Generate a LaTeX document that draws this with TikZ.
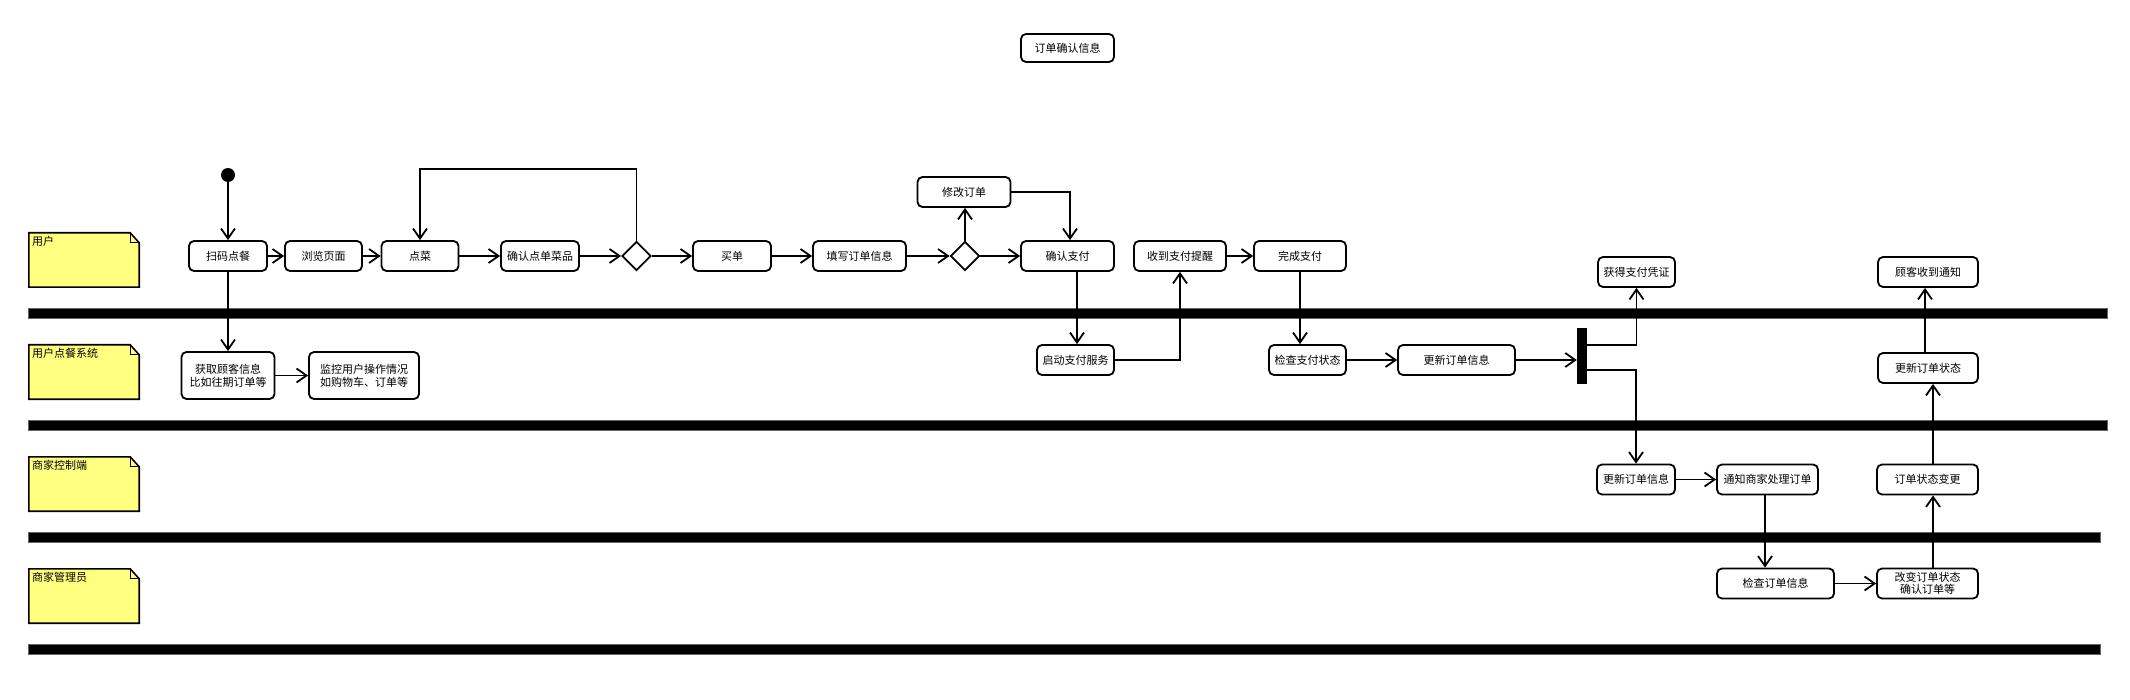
\documentclass[tikz,border=0pt]{standalone}
\usepackage{fontspec}
\newfontfamily\cjk{Noto Sans CJK SC}
\usetikzlibrary{arrows.meta,shapes.geometric}
\definecolor{noteyellow}{RGB}{255,255,128}
\begin{document}
\begin{tikzpicture}[x=1pt,y=-1pt,
  txt/.style={font=\cjk\fontsize{11}{13}\selectfont},
  box/.style={txt, draw, line width=1.8pt, rounded corners=5pt, fill=white, inner sep=0pt, minimum height=30pt, align=center},
  dia/.style={diamond, draw, line width=1.8pt, fill=white, minimum width=29pt, minimum height=29pt, inner sep=0pt, aspect=1},
  arr/.style={line width=1.8pt, -{Straight Barb[length=10pt,width=14pt]}},
  notebox/.style={minimum width=110pt, minimum height=54pt, inner sep=0pt},
  notedraw/.style={draw, line width=1.6pt, fill=noteyellow},
  band/.style={fill=black, draw=black!60, line width=0.8pt}
]
\useasboundingbox (0,0) rectangle (2130,700);

% swimlane separators
\path[band] (28,308) rectangle (2107,318);
\path[band] (28,420) rectangle (2107,430);
\path[band] (28,532) rectangle (2100,542);
\path[band] (28,644) rectangle (2100,654);

% lane notes
\foreach \n/\yy/\lab in {n1/260/用户, n2/372/用户点餐系统, n3/484/商家控制端, n4/596/商家管理员}{
  \node[notebox] (\n) at (84,\yy) {};
  \draw[notedraw] (\n.south west) -- (\n.north west) -- ([xshift=-9pt]\n.north east) -- ([yshift=-10pt]\n.north east) -- (\n.south east) -- cycle;
  \draw[line width=1.2pt] ([xshift=-9pt]\n.north east) -- ([xshift=-9pt,yshift=-10pt]\n.north east) -- ([yshift=-10pt]\n.north east);
  \node[txt, anchor=north west, inner sep=0pt] (\n t) at ([xshift=3pt,yshift=-3pt]\n.north west) {\lab};
}

% title
\node[box, minimum width=93pt, minimum height=28pt] (title) at (1067.5,48) {订单确认信息};

% lane 1
\node[circle, fill=black, minimum size=14pt, inner sep=0pt] (start) at (228,175) {};
\node[box, minimum width=78pt] (scan) at (228,256) {扫码点餐};
\node[box, minimum width=77pt] (browse) at (323.5,256) {浏览页面};
\node[box, minimum width=77pt] (dish) at (420,256) {点菜};
\node[box, minimum width=78pt] (cdish) at (540,256) {确认点单菜品};
\node[dia] (d1) at (636.5,256) {};
\node[box, minimum width=78pt] (buy) at (732,256) {买单};
\node[box, minimum width=93pt] (fillin) at (859.5,256) {填写订单信息};
\node[dia] (d2) at (965,256) {};
\node[box, minimum width=93pt] (modify) at (964,192) {修改订单};
\node[box, minimum width=93pt] (cpay) at (1067.5,256) {确认支付};
\node[box, minimum width=92pt] (remind) at (1180,256) {收到支付提醒};
\node[box, minimum width=92pt] (done) at (1300,256) {完成支付};
\node[box, minimum width=77pt] (voucher) at (1636.5,272) {获得支付凭证};
\node[box, minimum width=100pt] (notified) at (1928,272) {顾客收到通知};
\coordinate (looptop) at (530,169);

% lane 2
\node[box, minimum width=93pt, minimum height=47pt] (getinfo) at (228,375.5) {获取顾客信息\\比如往期订单等};
\node[box, minimum width=110pt, minimum height=47pt] (monitor) at (364,375.5) {监控用户操作情况\\如购物车、订单等};
\node[box, minimum width=77pt] (startpay) at (1075.5,360) {启动支付服务};
\node[box, minimum width=77pt] (check) at (1307.5,360) {检查支付状态};
\node[box, minimum width=117pt] (upd1) at (1456.5,360) {更新订单信息};
\node[fill=black, minimum width=10pt, minimum height=56pt, inner sep=0pt] (bar) at (1582,356) {};
\node[box, minimum width=100pt] (updst) at (1928,368) {更新订单状态};

% lane 3
\node[box, minimum width=78pt] (upd2) at (1636,479.5) {更新订单信息};
\node[box, minimum width=101pt] (notify) at (1767.5,479.5) {通知商家处理订单};
\node[box, minimum width=101pt] (stchg) at (1927.5,479.5) {订单状态变更};

% lane 4
\node[box, minimum width=117pt] (chkorder) at (1775.5,583.5) {检查订单信息};
\node[box, minimum width=101pt, font=\cjk\fontsize{11}{12}\selectfont] (change) at (1927.5,583.5) {改变订单状态\\确认订单等};

% connectors
\draw[arr] (start) -- (scan);
\draw[arr] (scan) -- (browse);
\draw[arr] (browse) -- (dish);
\draw[arr] (dish) -- (cdish);
\draw[arr] (cdish) -- (d1);
\draw[arr] (d1) -- (buy);
\draw[arr] (d1.north) |- (looptop) -| (dish.north);
\draw[arr] (buy) -- (fillin);
\draw[arr] (fillin) -- (d2);
\draw[arr] (d2) -- (cpay);
\draw[arr] (d2.north) -- ([xshift=1pt]modify.south);
\draw[arr] (modify.east) -| ([xshift=2.5pt]cpay.north);
\draw[arr] ([xshift=9.5pt]cpay.south) -- ([xshift=1.5pt]startpay.north);
\draw[arr] (startpay.east) -| (remind.south);
\draw[arr] (remind) -- (done);
\draw[arr] (done.south) -- ([xshift=-7.5pt]check.north);
\draw[arr] (check) -- (upd1);
\draw[arr] (upd1.east) -- ([yshift=-4pt]bar.west);
\draw[arr] ([yshift=11pt]bar.east) -| (voucher.south);
\draw[arr] ([yshift=-14pt]bar.east) -| (upd2.north);
\draw[arr] (upd2) -- (notify);
\draw[arr] ([xshift=-2.5pt]notify.south) -- ([xshift=-10.5pt]chkorder.north);
\draw[arr] (chkorder) -- (change);
\draw[arr] ([xshift=5.5pt]change.north) -- ([xshift=5.5pt]stchg.south);
\draw[arr] ([xshift=5.5pt]stchg.north) -- ([xshift=5pt]updst.south);
\draw[arr] ([xshift=-3pt]updst.north) -- ([xshift=-3pt]notified.south);
\draw[arr] (scan.south) -- (getinfo.north);
\draw[arr] (getinfo) -- (monitor);
\end{tikzpicture}
\end{document}
